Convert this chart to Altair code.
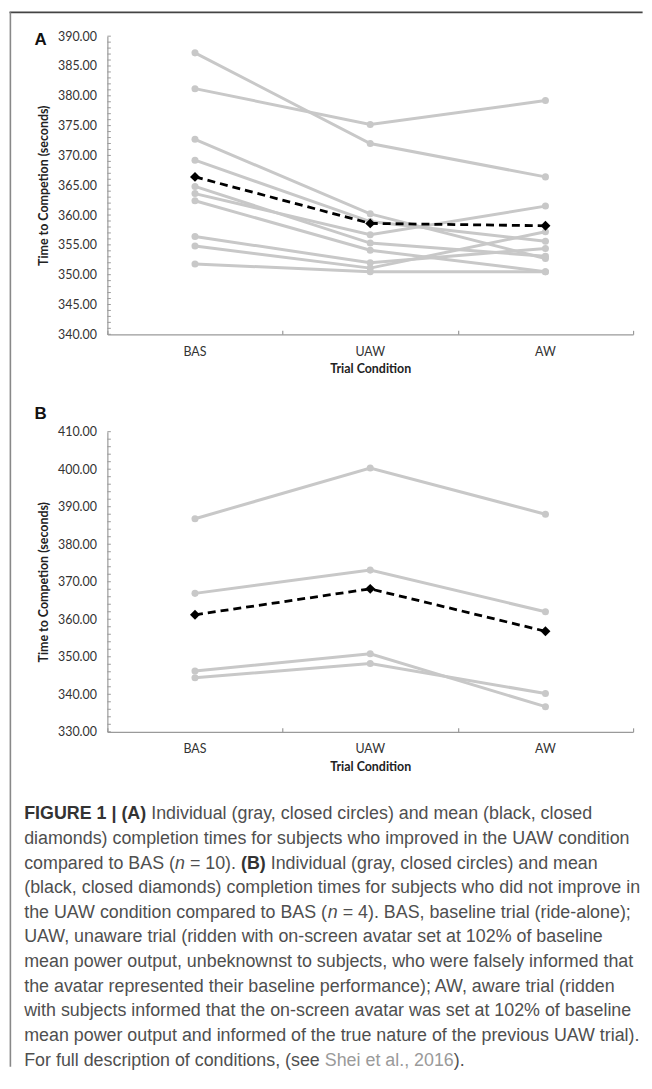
import altair as alt
import pandas as pd

# ---------------- data ----------------
conditions = ["BAS", "UAW", "AW"]

# Panel A (improved in UAW, n = 10)
a_bas = [387.2, 381.2, 372.7, 369.2, 364.8, 363.6, 362.4, 356.4, 354.8, 351.8]
a_uaw = [372.0, 375.2, 360.2, 358.9, 355.3, 356.7, 354.1, 352.0, 351.1, 350.5]
a_aw = [366.4, 379.2, 352.7, 355.6, 353.1, 361.5, 350.5, 354.4, 357.2, 350.5]
a_mean = [366.4, 358.6, 358.2]

# Panel B (did not improve, n = 4)
b_bas = [386.8, 366.9, 346.2, 344.4]
b_uaw = [400.3, 373.1, 350.8, 348.2]
b_aw = [388.0, 362.0, 336.7, 340.2]
b_mean = [361.2, 368.1, 356.8]

a_major = [340, 345, 350, 355, 360, 365, 370, 375, 380, 385, 390]
a_minor = list(range(340, 391, 1))
b_major = [330, 340, 350, 360, 370, 380, 390, 400, 410]
b_minor = list(range(330, 411, 2))

y_title = "Time to Competion (seconds)"
x_title = "Trial Condition"

# caption: (text, style) segments per line; r=regular, b=bold, i=italic, l=link
caption_segments = [
    [("FIGURE 1 | (A)", "b"), (" Individual (gray, closed circles) and mean (black, closed", "r")],
    [("diamonds) completion times for subjects who improved in the UAW condition", "r")],
    [("compared to BAS (", "r"), ("n", "i"), (" = 10). ", "r"), ("(B)", "b"),
     (" Individual (gray, closed circles) and mean", "r")],
    [("(black, closed diamonds) completion times for subjects who did not improve in", "r")],
    [("the UAW condition compared to BAS (", "r"), ("n", "i"),
     (" = 4). BAS, baseline trial (ride-alone);", "r")],
    [("UAW, unaware trial (ridden with on-screen avatar set at 102% of baseline", "r")],
    [("mean power output, unbeknownst to subjects, who were falsely informed that", "r")],
    [("the avatar represented their baseline performance); AW, aware trial (ridden", "r")],
    [("with subjects informed that the on-screen avatar was set at 102% of baseline", "r")],
    [("mean power output and informed of the true nature of the previous UAW trial).", "r")],
    [("For full description of conditions, (see ", "r"), ("Shei et al., 2016", "l"), (").", "r")],
]

# ---------------- font metrics (Arial / Liberation Sans, per 1000 em) ----------------
_REG = {
    " ": 278, "(": 333, ")": 333, ",": 278, ".": 278, ";": 278, ":": 278, "%": 889,
    "-": 333, "=": 584, "|": 260, "'": 191,
    "A": 667, "B": 667, "C": 722, "D": 722, "E": 667, "F": 611, "G": 778, "H": 722,
    "I": 278, "J": 500, "K": 667, "L": 556, "M": 833, "N": 722, "O": 778, "P": 667,
    "Q": 778, "R": 722, "S": 667, "T": 611, "U": 722, "V": 667, "W": 944, "X": 667,
    "Y": 667, "Z": 611,
    "a": 556, "b": 556, "c": 500, "d": 556, "e": 556, "f": 278, "g": 556, "h": 556,
    "i": 222, "j": 222, "k": 500, "l": 222, "m": 833, "n": 556, "o": 556, "p": 556,
    "q": 556, "r": 333, "s": 500, "t": 278, "u": 556, "v": 500, "w": 722, "x": 500,
    "y": 500, "z": 500,
}
for _d in "0123456789":
    _REG[_d] = 556
_BOLD = dict(_REG)
_BOLD.update({" ": 278, "(": 333, ")": 333, "|": 280, "A": 722, "B": 722, "E": 667,
              "F": 611, "G": 778, "I": 278, "R": 722, "U": 722})


def units(s, style):
    table = _BOLD if style == "b" else _REG
    return sum(table.get(ch, 556) for ch in s)


def long_df(bas, uaw, aw):
    rows = []
    for i, vals in enumerate(zip(bas, uaw, aw)):
        for c, v in zip(conditions, vals):
            rows.append({"subject": i, "cond": c, "value": v})
    return pd.DataFrame(rows)


# ---------------- styling ----------------
W = 529
GRAY = "#c8c8c8"
AXIS_FONT = "Lato"
AX_SIZE = 12.5
CAP_FONT = "Liberation Sans"
CAP_COLOR = "#4f4f4f"
CAP_LEFT = 22.7
CAP_FIRST = 821.0
CAP_STEP = 24.8
LEFT = 106.4  # page x of plot left

max_units = max(sum(units(t, s) for t, s in line) for line in caption_segments)
CAP_SIZE = min(18.0, 620.0 * 1000.0 / max_units)


def text_layer(txt, x, y, size, weight="normal", style="normal", color="#222",
               font=CAP_FONT):
    return alt.Chart(pd.DataFrame({"t": [txt]})).mark_text(
        align="left", baseline="alphabetic", font=font, fontSize=size,
        fontWeight=weight, fontStyle=style, color=color
    ).encode(x=alt.value(x), y=alt.value(y), text="t:N")


def panel(bas, uaw, aw, mean, domain, major, minor, H, extras):
    df = long_df(bas, uaw, aw)
    mdf = pd.DataFrame({"cond": conditions, "value": mean})
    tdf = pd.DataFrame({"value": minor})

    xscale = alt.Scale(type="band", domain=conditions, paddingInner=0, paddingOuter=0)
    yscale = alt.Scale(domain=domain, nice=False, zero=False)

    x_main = alt.X(
        "cond:N", scale=xscale, sort=conditions, bandPosition=0.5,
        axis=alt.Axis(
            orient="bottom", title=x_title, ticks=False, labelAngle=0,
            labelPadding=11, domainColor="#9a9a9a", domainWidth=1.2,
            labelFont=AXIS_FONT, labelFontSize=AX_SIZE, labelColor="#333",
            titleFont=AXIS_FONT, titleFontSize=AX_SIZE, titleFontWeight="bold",
            titleColor="#222", titlePadding=5,
        ),
    )
    x_top = alt.X(
        "cond:N", scale=xscale, sort=conditions, bandPosition=0.5,
        axis=alt.Axis(
            orient="top", offset=-H, labels=False, title=None, domain=False,
            ticks=True, tickBand="extent", tickSize=4, tickColor="#9a9a9a",
            tickWidth=1.2,
        ),
    )
    x_none = alt.X("cond:N", scale=xscale, sort=conditions, bandPosition=0.5, axis=None)

    y_axis = alt.Axis(
        title=y_title, values=major, format=".2f", ticks=False, grid=False,
        labelOverlap=False, labelPadding=11, domainColor="#9a9a9a",
        domainWidth=1.2, labelFont=AXIS_FONT, labelFontSize=AX_SIZE,
        labelColor="#333", titleFont=AXIS_FONT, titleFontSize=AX_SIZE,
        titleFontWeight="bold", titleColor="#222", titlePadding=7,
    )
    y_enc = alt.Y("value:Q", scale=yscale, axis=y_axis)

    lines = alt.Chart(df).mark_line(color=GRAY, strokeWidth=3).encode(
        x=x_main, y=y_enc, detail="subject:N"
    )
    pts = alt.Chart(df).mark_circle(color=GRAY, opacity=1, size=50).encode(
        x=x_none, y=y_enc
    )
    mline = alt.Chart(mdf).mark_line(
        color="black", strokeWidth=2.8, strokeDash=[8, 5]
    ).encode(x=x_top, y=y_enc)
    mpts = alt.Chart(mdf).mark_point(
        shape="diamond", filled=True, color="black", opacity=1, size=100
    ).encode(x=x_none, y=y_enc)
    minor_ticks = alt.Chart(tdf).mark_rule(color="#9a9a9a", strokeWidth=1).encode(
        y=y_enc, x=alt.value(0), x2=alt.value(3.5)
    )

    layers = [lines, pts, minor_ticks, mline, mpts] + extras
    return alt.layer(*layers).resolve_axis(x="independent").properties(
        width=W, height=H
    )


# ---------- panel A extras: label and frame ----------
a_extras = [
    text_layer("A", 33 - LEFT, 9, 17, weight="bold", font="Liberation Sans", color="#111"),
    alt.Chart(pd.DataFrame({"k": [0]})).mark_rule(color="#444", strokeWidth=1.8).encode(
        x=alt.value(-98.5), x2=alt.value(645 - LEFT), y=alt.value(-24), y2=alt.value(-24)
    ),
    alt.Chart(pd.DataFrame({"k": [0]})).mark_rule(color="#888", strokeWidth=1.6).encode(
        x=alt.value(-97.6), x2=alt.value(-97.6), y=alt.value(-24), y2=alt.value(1037)
    ),
]

# ---------- panel B extras: label and caption ----------
B_TOP = 431.0
b_extras = [text_layer("B", 33 - LEFT, 418 - B_TOP, 17, weight="bold",
                       font="Liberation Sans", color="#111")]

STYLE = {
    "r": dict(weight="normal", style="normal", color=CAP_COLOR),
    "b": dict(weight="bold", style="normal", color="#333333"),
    "i": dict(weight="normal", style="italic", color=CAP_COLOR),
    "l": dict(weight="normal", style="normal", color="#9a9a9a"),
}
k = CAP_SIZE / 1000.0
for li, line in enumerate(caption_segments):
    y = CAP_FIRST + CAP_STEP * li - B_TOP
    cursor = CAP_LEFT
    for txt, st in line:
        lead = len(txt) - len(txt.lstrip(" "))
        cursor += lead * _REG[" "] * k
        core = txt.strip(" ")
        if core:
            b_extras.append(text_layer(core, cursor - LEFT, y, CAP_SIZE, **STYLE[st]))
        cursor += units(core, st) * k
        trail = len(txt) - len(txt.rstrip(" "))
        cursor += trail * _REG[" "] * k

panel_a = panel(a_bas, a_uaw, a_aw, a_mean, [340, 390], a_major, a_minor, 300, a_extras)
panel_b = panel(b_bas, b_uaw, b_aw, b_mean, [330, 410], b_major, b_minor, 302, b_extras)

chart = alt.vconcat(panel_a, panel_b, spacing=98, bounds="flush").properties(
    padding=0, background="white"
).configure_view(stroke=None)

chart.save("out.html", embed_options={"renderer": "svg", "actions": False})
